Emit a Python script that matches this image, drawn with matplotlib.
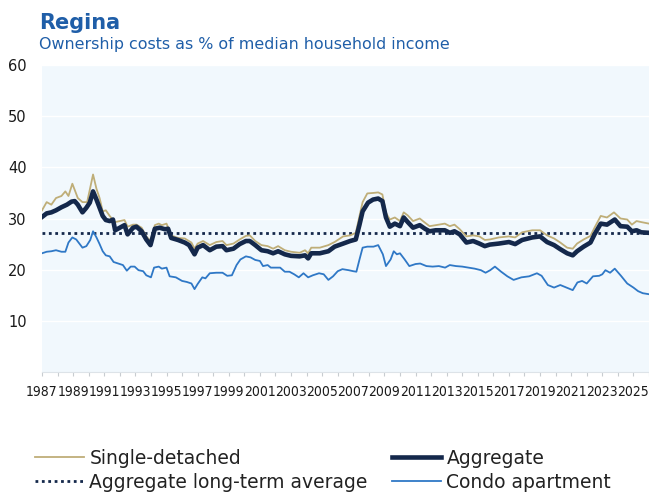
import matplotlib.pyplot as plt
from matplotlib.ticker import MultipleLocator

# values (decimal year, % of median household income)
agg_years = [1987.0, 1987.3, 1987.6, 1987.9, 1988.25, 1988.6, 1988.9, 1989.1, 1989.3, 1989.6,
             1989.85, 1990.07, 1990.28, 1990.5, 1990.7, 1990.9, 1991.1, 1991.35, 1991.56, 1991.7,
             1992.0, 1992.3, 1992.5, 1992.85, 1993.07, 1993.4, 1993.7, 1993.97, 1994.25, 1994.56,
             1994.9, 1995.1, 1995.3, 1995.74, 1996.17, 1996.45, 1996.8, 1997.0, 1997.35, 1997.78,
             1998.2, 1998.6, 1998.85, 1999.3, 1999.7, 2000.1, 2000.35, 2000.7, 2001.1, 2001.5,
             2001.85, 2002.17, 2002.6, 2003.0, 2003.55, 2003.9, 2004.1, 2004.3, 2004.85, 2005.4,
             2005.8, 2006.35, 2006.8, 2007.16, 2007.4, 2007.6, 2007.95, 2008.27, 2008.6, 2008.87,
             2009.1, 2009.35, 2009.67, 2010.0, 2010.24, 2010.5, 2010.84, 2011.27, 2011.6, 2011.9,
             2012.3, 2012.88, 2013.2, 2013.5, 2013.84, 2014.27, 2014.7, 2015.1, 2015.45, 2015.77,
             2016.35, 2017.0, 2017.4, 2017.85, 2018.5, 2019.0, 2019.45, 2019.9, 2020.3, 2020.74,
             2021.1, 2021.38, 2021.8, 2022.24, 2022.5, 2022.9, 2023.3, 2023.8, 2024.17, 2024.6,
             2024.9, 2025.2, 2025.5, 2026.0]
aggregate = [30.3, 31.0, 31.2, 31.6, 32.2, 32.7, 33.3, 33.4, 32.7, 31.2,
             32.1, 33.1, 35.3, 33.7, 32.1, 30.5, 29.7, 29.5, 29.8, 27.7,
             28.2, 28.7, 26.9, 28.2, 28.4, 27.5, 25.9, 24.8, 28.0, 28.2,
             27.9, 28.0, 26.2, 25.8, 25.3, 24.8, 23.0, 24.3, 24.8, 23.8,
             24.5, 24.6, 23.8, 24.1, 25.0, 25.6, 25.6, 24.8, 23.8, 23.6,
             23.2, 23.6, 23.0, 22.7, 22.6, 22.8, 22.2, 23.2, 23.2, 23.6,
             24.5, 25.1, 25.6, 25.9, 28.8, 31.4, 33.1, 33.7, 33.9, 33.4,
             30.2, 28.4, 29.0, 28.5, 30.2, 29.3, 28.2, 28.7, 28.0, 27.5,
             27.7, 27.7, 27.2, 27.5, 26.9, 25.3, 25.6, 25.1, 24.6, 24.9,
             25.1, 25.4, 25.0, 25.8, 26.3, 26.5, 25.4, 24.8, 24.0, 23.2,
             22.8, 23.6, 24.5, 25.3, 26.9, 29.0, 28.8, 29.8, 28.5, 28.4,
             27.5, 27.7, 27.3, 27.2]

sd_years = [1987.0, 1987.3, 1987.6, 1987.9, 1988.25, 1988.5, 1988.7, 1988.95, 1989.3, 1989.6,
            1989.9, 1990.28, 1990.5, 1990.7, 1990.9, 1991.1, 1991.35, 1991.56, 1991.7, 1992.0,
            1992.3, 1992.5, 1992.85, 1993.07, 1993.4, 1993.7, 1993.97, 1994.25, 1994.5, 1994.7,
            1995.0, 1995.3, 1995.74, 1996.17, 1996.6, 1996.8, 1997.0, 1997.35, 1997.78, 1998.2,
            1998.6, 1998.85, 1999.3, 1999.7, 2000.1, 2000.35, 2000.7, 2001.1, 2001.5, 2001.85,
            2002.17, 2002.6, 2003.0, 2003.55, 2003.9, 2004.1, 2004.3, 2004.85, 2005.4, 2005.8,
            2006.1, 2006.35, 2006.8, 2007.16, 2007.4, 2007.6, 2007.9, 2008.3, 2008.6, 2008.87,
            2009.1, 2009.35, 2009.67, 2010.0, 2010.24, 2010.5, 2010.84, 2011.27, 2011.6, 2011.9,
            2012.3, 2012.88, 2013.2, 2013.5, 2013.84, 2014.27, 2014.7, 2015.1, 2015.45, 2015.77,
            2016.35, 2017.0, 2017.4, 2017.85, 2018.5, 2019.0, 2019.45, 2019.9, 2020.3, 2020.74,
            2021.1, 2021.38, 2021.8, 2022.24, 2022.5, 2022.9, 2023.3, 2023.75, 2024.17, 2024.6,
            2024.9, 2025.2, 2025.5, 2026.0]
single_detached = [31.6, 33.2, 32.7, 34.0, 34.4, 35.3, 34.4, 36.8, 34.0, 33.2,
                   33.2, 38.6, 35.8, 34.0, 31.4, 31.6, 30.5, 29.7, 29.3, 29.5,
                   29.7, 28.4, 28.8, 28.8, 28.2, 26.5, 25.6, 28.7, 29.0, 28.7,
                   29.0, 26.7, 26.2, 26.1, 25.3, 24.1, 25.1, 25.6, 24.8, 25.4,
                   25.6, 24.8, 25.1, 25.9, 26.6, 26.7, 25.6, 24.8, 24.6, 24.1,
                   24.6, 23.8, 23.5, 23.3, 23.8, 23.2, 24.3, 24.3, 24.8, 25.4,
                   26.0, 26.5, 26.7, 27.2, 30.5, 33.2, 34.9, 35.0, 35.1, 34.7,
                   31.1, 29.8, 30.2, 29.5, 31.2, 30.6, 29.5, 30.0, 29.2, 28.5,
                   28.7, 29.0, 28.5, 28.8, 27.9, 26.5, 26.7, 26.5, 25.8, 25.9,
                   26.3, 26.5, 26.3, 27.3, 27.7, 27.7, 26.7, 26.1, 25.3, 24.3,
                   24.1, 25.1, 25.9, 26.6, 28.2, 30.5, 30.2, 31.2, 30.0, 29.8,
                   28.8, 29.5, 29.3, 29.0]

condo_years = [1987.0, 1987.3, 1987.6, 1987.9, 1988.25, 1988.5, 1988.7, 1988.95, 1989.2, 1989.6,
               1989.85, 1990.1, 1990.28, 1990.5, 1990.7, 1990.9, 1991.1, 1991.35, 1991.6, 1991.9,
               1992.2, 1992.45, 1992.7, 1992.95, 1993.2, 1993.5, 1993.7, 1994.0, 1994.2, 1994.5,
               1994.7, 1995.0, 1995.2, 1995.6, 1996.0, 1996.3, 1996.6, 1996.8, 1997.0, 1997.3,
               1997.5, 1997.78, 1998.2, 1998.6, 1998.9, 1999.2, 1999.5, 1999.75, 2000.1, 2000.4,
               2000.7, 2001.0, 2001.2, 2001.5, 2001.7, 2002.0, 2002.3, 2002.6, 2002.9, 2003.2,
               2003.5, 2003.8, 2004.1, 2004.4, 2004.8, 2005.1, 2005.4, 2005.7, 2006.0, 2006.3,
               2006.7, 2007.0, 2007.2, 2007.4, 2007.6, 2007.9, 2008.3, 2008.6, 2008.9, 2009.1,
               2009.4, 2009.6, 2009.8, 2010.0, 2010.3, 2010.6, 2011.0, 2011.3, 2011.7, 2012.1,
               2012.5, 2012.9, 2013.2, 2013.6, 2014.0, 2014.4, 2014.8, 2015.2, 2015.5, 2015.8,
               2016.1, 2016.5, 2016.9, 2017.3, 2017.8, 2018.3, 2018.8, 2019.1, 2019.5, 2019.9,
               2020.3, 2020.7, 2021.1, 2021.4, 2021.7, 2022.0, 2022.4, 2022.8, 2023.0, 2023.2,
               2023.5, 2023.8, 2024.2, 2024.6, 2025.0, 2025.3, 2025.6, 2026.0]
condo = [23.2, 23.5, 23.6, 23.8, 23.5, 23.5, 25.3, 26.3, 25.9, 24.3,
         24.6, 25.8, 27.5, 26.3, 25.0, 23.6, 22.8, 22.6, 21.5, 21.2,
         20.9, 19.8, 20.6, 20.6, 19.9, 19.7, 18.9, 18.5, 20.4, 20.6,
         20.2, 20.4, 18.7, 18.5, 17.8, 17.6, 17.3, 16.2, 17.2, 18.5,
         18.3, 19.3, 19.4, 19.4, 18.8, 18.9, 20.9, 22.0, 22.6, 22.4,
         21.9, 21.7, 20.7, 20.9, 20.4, 20.4, 20.4, 19.6, 19.6, 19.1,
         18.5, 19.3, 18.5, 18.9, 19.3, 19.1, 18.0, 18.7, 19.7, 20.1,
         19.9, 19.7, 19.6, 22.0, 24.3, 24.5, 24.5, 24.8, 23.0, 20.7,
         22.0, 23.6, 23.0, 23.2, 22.0, 20.7, 21.1, 21.2, 20.7, 20.6,
         20.7, 20.4, 20.9, 20.7, 20.6, 20.4, 20.2, 19.9, 19.4, 19.9,
         20.6, 19.6, 18.7, 18.0, 18.5, 18.7, 19.3, 18.8, 17.0, 16.5,
         17.0, 16.5, 16.0, 17.5, 17.8, 17.3, 18.7, 18.8, 19.1, 19.9,
         19.4, 20.2, 18.8, 17.3, 16.5, 15.8, 15.4, 15.2]

long_term_avg = 27.1

fig = plt.figure(figsize=(6.49, 4.94), dpi=100)
ax = fig.add_axes([42 / 649, 1 - 372 / 494, 607 / 649, 307 / 494])
ax.set_facecolor('#f1f8fd')

ax.plot(sd_years, single_detached, color='#bfae78', linewidth=1.3, label='Single-detached', zorder=3)
ax.axhline(long_term_avg, color='#14284b', linewidth=2.0, linestyle=(0, (1, 1.3)),
           label='Aggregate long-term average', zorder=2)
ax.plot(agg_years, aggregate, color='#14284b', linewidth=3.3, label='Aggregate', zorder=4)
ax.plot(condo_years, condo, color='#2f78c6', linewidth=1.3, label='Condo apartment', zorder=3)

ax.set_xlim(1987, 2026)
ax.set_ylim(0, 60)
ax.set_yticks([10, 20, 30, 40, 50, 60])
ax.yaxis.grid(True, color='white', linewidth=1.0)
ax.set_axisbelow(True)

ticks = list(range(1987, 2026, 2))
ax.set_xticks(ticks)
ax.xaxis.set_minor_locator(MultipleLocator(1))
ax.set_xticklabels([str(t) for t in ticks], fontsize=10, fontstretch='condensed',
                   family='DejaVu Sans', color='#1a1a1a')
ax.tick_params(axis='x', which='both', color='#c8ccd0', length=3, width=0.8, pad=6)
ax.tick_params(axis='y', length=0, pad=11, labelsize=10.5, labelcolor='#1a1a1a')

for side in ['top', 'right', 'left']:
    ax.spines[side].set_visible(False)
ax.spines['bottom'].set_color('#dde3e8')
ax.spines['bottom'].set_linewidth(0.8)

fig.text(39 / 649, 1 - 29 / 494, 'Regina', fontsize=15, fontweight='bold',
         color='#1f5ea8', va='baseline')
fig.text(39 / 649, 1 - 48.5 / 494, 'Ownership costs as % of median household income',
         fontsize=11.4, color='#1f5ea8', va='baseline')

fig.legend(loc='upper left', bbox_to_anchor=(35 / 649, 1 - 449 / 494), ncol=2,
           frameon=False, fontsize=13.5, handlelength=2.6, handletextpad=0.3,
           columnspacing=1.3, labelspacing=0.25, borderpad=0, borderaxespad=0,
           labelcolor='#222222')

fig.savefig('out.png', dpi=100)
